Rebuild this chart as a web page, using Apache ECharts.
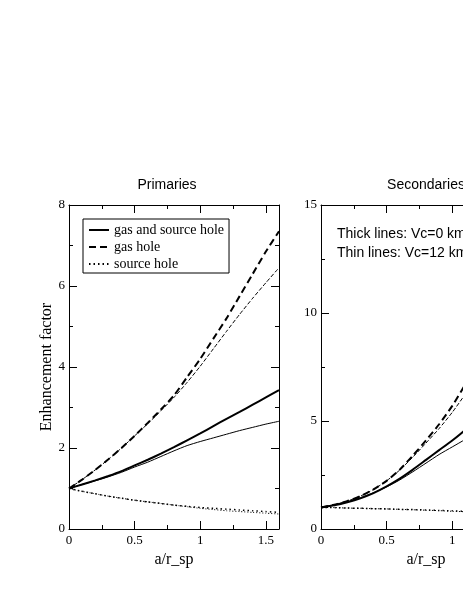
<!DOCTYPE html>
<html>
<head>
<meta charset="utf-8">
<script src="https://cdn.jsdelivr.net/npm/echarts@6/dist/echarts.min.js"></script>
<style>
  html, body { margin: 0; padding: 0; background: #fff; overflow: hidden; }
  #chart { position: absolute; left: 0; top: 0; width: 560px; height: 599px; }
</style>
</head>
<body>
<div id="chart"></div>
<script>
// x = a/r_sp
var xs = [0, 0.1, 0.2, 0.3, 0.4, 0.5, 0.6, 0.7, 0.8, 0.9, 1.0, 1.1, 1.2, 1.3, 1.4, 1.5, 1.6];

// Primaries, thick = Vc=0, thin = Vc=12
var priBothThick = [1.0, 1.1, 1.2, 1.31, 1.43, 1.57, 1.71, 1.86, 2.02, 2.19, 2.36, 2.54, 2.72, 2.89, 3.07, 3.25, 3.43];
var priBothThin  = [1.0, 1.1, 1.19, 1.29, 1.4, 1.53, 1.65, 1.79, 1.93, 2.06, 2.16, 2.25, 2.34, 2.43, 2.51, 2.59, 2.66];
var priGasThick  = [1.0, 1.22, 1.46, 1.72, 2.0, 2.3, 2.62, 2.95, 3.3, 3.75, 4.2, 4.7, 5.2, 5.75, 6.3, 6.85, 7.35];
var priGasThin   = [1.0, 1.22, 1.46, 1.72, 2.0, 2.3, 2.6, 2.92, 3.25, 3.62, 4.02, 4.45, 4.88, 5.3, 5.7, 6.08, 6.45];
var priSrcThick  = [1.0, 0.93, 0.87, 0.81, 0.76, 0.71, 0.67, 0.63, 0.59, 0.56, 0.53, 0.51, 0.49, 0.47, 0.45, 0.43, 0.41];
var priSrcThin   = [1.0, 0.93, 0.87, 0.81, 0.76, 0.71, 0.67, 0.63, 0.59, 0.55, 0.51, 0.48, 0.45, 0.43, 0.41, 0.39, 0.37];

// Secondaries
var secBothThick = [1.0, 1.1, 1.24, 1.42, 1.66, 1.97, 2.33, 2.75, 3.2, 3.65, 4.1, 4.6, 5.2, 5.9, 6.6, 7.4, 8.2];
var secBothThin  = [1.0, 1.11, 1.26, 1.45, 1.68, 1.95, 2.27, 2.65, 3.05, 3.45, 3.8, 4.15, 4.5, 4.85, 5.2, 5.55, 5.9];
var secGasThick  = [1.0, 1.12, 1.29, 1.52, 1.83, 2.23, 2.75, 3.4, 4.1, 4.85, 5.7, 6.7, 7.8, 9.0, 10.3, 11.7, 13.2];
var secGasThin   = [1.0, 1.12, 1.29, 1.52, 1.83, 2.23, 2.73, 3.33, 3.98, 4.65, 5.4, 6.25, 7.15, 8.05, 9.0, 10.0, 11.0];
var secSrcThick  = [1.0, 0.99, 0.97, 0.96, 0.94, 0.93, 0.91, 0.9, 0.88, 0.86, 0.84, 0.82, 0.8, 0.79, 0.77, 0.76, 0.74];
var secSrcThin   = [1.0, 0.99, 0.97, 0.96, 0.94, 0.93, 0.91, 0.89, 0.87, 0.85, 0.82, 0.8, 0.78, 0.76, 0.74, 0.72, 0.7];

var legendNames = ['gas and source hole', 'gas hole', 'source hole'];
var priYTicks = { min: 0, max: 8, interval: 2 };
var secYTicks = { min: 0, max: 15, interval: 5 };

var serif = '"Liberation Serif", "Times New Roman", serif';
var sans = '"Liberation Sans", Arial, Helvetica, sans-serif';

function pairs (ys) {
  return xs.map(function (x, i) { return [x, ys[i]]; });
}

function xAxisFor (grid, pos, labels) {
  return {
    type: 'value', gridIndex: grid, position: pos,
    min: 0, max: 1.6, interval: 0.5,
    axisLine: { show: true, onZero: false, lineStyle: { color: '#000', width: 1 } },
    axisTick: { show: true, inside: true, length: 8, lineStyle: { color: '#000' } },
    minorTick: { show: true, splitNumber: 2, length: 4, lineStyle: { color: '#000' } },
    splitLine: { show: false },
    axisLabel: {
      show: labels, showMaxLabel: false, margin: 5,
      color: '#000', fontFamily: serif, fontSize: 13
    },
    name: labels ? 'a/r_sp' : '',
    nameLocation: 'middle', nameGap: 20,
    nameTextStyle: { color: '#000', fontFamily: serif, fontSize: 16 }
  };
}

function yAxisFor (grid, pos, ticks, labels, name) {
  return {
    type: 'value', gridIndex: grid, position: pos,
    min: ticks.min, max: ticks.max, interval: ticks.interval,
    axisLine: { show: true, onZero: false, lineStyle: { color: '#000', width: 1 } },
    axisTick: { show: true, inside: true, length: 8, lineStyle: { color: '#000' } },
    minorTick: { show: true, splitNumber: 2, length: 4, lineStyle: { color: '#000' } },
    splitLine: { show: false },
    axisLabel: { show: labels, margin: 4, color: '#000', fontFamily: serif, fontSize: 13 },
    name: name || '',
    nameLocation: 'middle', nameGap: 12,
    nameTextStyle: { color: '#000', fontFamily: serif, fontSize: 16 }
  };
}

function line (name, ys, xi, yi, width, type) {
  return {
    name: name, type: 'line',
    xAxisIndex: xi, yAxisIndex: yi,
    data: pairs(ys),
    symbol: 'none', smooth: 0.2,
    color: '#000',
    lineStyle: { color: '#000', width: width, type: type },
    emphasis: { disabled: true },
    silent: true
  };
}

function initEcharts () {
  var option = {
    animation: false,
    backgroundColor: '#fff',
    grid: [
      { left: 69, top: 205, width: 210, height: 324 },
      { left: 321, top: 205, width: 210, height: 324 }
    ],
    xAxis: [
      xAxisFor(0, 'bottom', true),
      xAxisFor(0, 'top', false),
      xAxisFor(1, 'bottom', true),
      xAxisFor(1, 'top', false)
    ],
    yAxis: [
      yAxisFor(0, 'left', priYTicks, true, 'Enhancement factor'),
      yAxisFor(0, 'right', priYTicks, false),
      yAxisFor(1, 'left', secYTicks, true),
      yAxisFor(1, 'right', secYTicks, false)
    ],
    legend: {
      data: legendNames,
      orient: 'vertical',
      left: 83, top: 219,
      padding: [4, 5, 2, 5],
      itemWidth: 20, itemHeight: 14, itemGap: 3,
      borderColor: '#000', borderWidth: 1,
      selectedMode: false,
      itemStyle: { opacity: 0 },
      textStyle: { color: '#000', fontFamily: serif, fontSize: 14 }
    },
    graphic: [
      { type: 'text', x: 167, y: 185, style: { text: 'Primaries', font: '14px ' + sans, fill: '#000', align: 'center', verticalAlign: 'middle' } },
      { type: 'text', x: 426, y: 185, style: { text: 'Secondaries', font: '14px ' + sans, fill: '#000', align: 'center', verticalAlign: 'middle' } },
      { type: 'text', x: 337, y: 234, style: { text: 'Thick lines: Vc=0 km/s', font: '14px ' + sans, fill: '#000', align: 'left', verticalAlign: 'middle' } },
      { type: 'text', x: 337, y: 253, style: { text: 'Thin lines: Vc=12 km/s', font: '14px ' + sans, fill: '#000', align: 'left', verticalAlign: 'middle' } }
    ],
    series: [
      line(legendNames[0], priBothThick, 0, 0, 2, 'solid'),
      line(legendNames[1], priGasThick, 0, 0, 2, [7, 4]),
      line(legendNames[2], priSrcThick, 0, 0, 1.5, [1.5, 3]),
      line('pri both thin', priBothThin, 0, 0, 1, 'solid'),
      line('pri gas thin', priGasThin, 0, 0, 1, [4, 2]),
      line('pri src thin', priSrcThin, 0, 0, 1, [1, 2]),
      line('sec both thick', secBothThick, 2, 2, 2, 'solid'),
      line('sec gas thick', secGasThick, 2, 2, 2, [7, 4]),
      line('sec src thick', secSrcThick, 2, 2, 1.5, [1.5, 3]),
      line('sec both thin', secBothThin, 2, 2, 1, 'solid'),
      line('sec gas thin', secGasThin, 2, 2, 1, [4, 2]),
      line('sec src thin', secSrcThin, 2, 2, 1, [1, 2])
    ]
  };

  var myChart = echarts.init(document.getElementById('chart'));
  myChart.setOption(option);
}

initEcharts();
</script>
</body>
</html>
